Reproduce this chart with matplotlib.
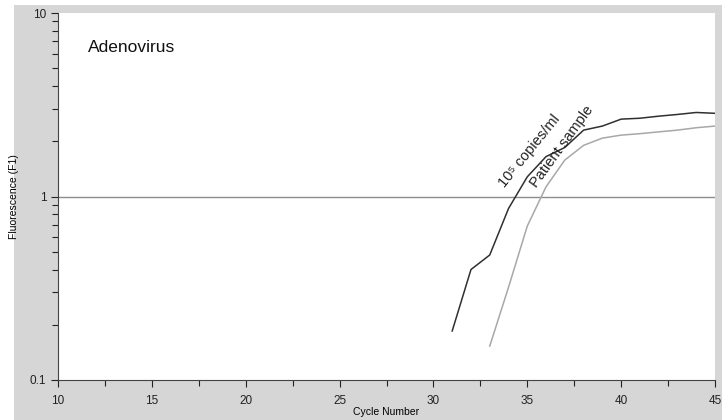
import matplotlib
matplotlib.use("Agg")
import matplotlib.pyplot as plt
from matplotlib.patches import Rectangle
from matplotlib.ticker import FixedLocator, NullFormatter, LogLocator

plt.rcParams['font.family'] = ['Liberation Sans', 'DejaVu Sans']

# Curvas de amplificacion (lectura aproximada de la figura)
ciclos_std = [31, 32, 33, 34, 35, 36, 37, 38, 39, 40, 41, 42, 43, 44, 45]
fluo_std = [0.185, 0.40, 0.48, 0.86, 1.28, 1.65, 1.85, 2.3, 2.42, 2.64, 2.67, 2.74, 2.8, 2.87, 2.84]
ciclos_pac = [33, 34, 35, 36, 37, 38, 39, 40, 41, 42, 43, 44, 45]
fluo_pac = [0.153, 0.32, 0.69, 1.13, 1.58, 1.9, 2.08, 2.16, 2.2, 2.25, 2.3, 2.37, 2.42]
umbral = 1.0

fig = plt.figure(figsize=(7.22, 4.2), dpi=100)
fig.patch.set_facecolor('white')
fig.patches.append(Rectangle((14/722, 0), 1, (420-5)/420, transform=fig.transFigure,
                             facecolor='#d6d6d6', edgecolor='none', zorder=-10))

ax = fig.add_axes([58/722, 40/420, (715-58)/722, (380-13)/420])
ax.set_facecolor('white')

ax.axhline(umbral, color='#8c8c8c', lw=1.0)
ax.plot(ciclos_std, fluo_std, color='#303030', lw=1.1)
ax.plot(ciclos_pac, fluo_pac, color='#a8a8a8', lw=1.1)

ax.set_yscale('log')
ax.set_xlim(10, 45)
ax.set_ylim(0.1, 10)
ax.xaxis.set_major_locator(FixedLocator([10, 15, 20, 25, 30, 35, 40, 45]))
ax.xaxis.set_minor_locator(FixedLocator([12.5, 17.5, 22.5, 27.5, 32.5, 37.5, 42.5]))
ax.yaxis.set_major_locator(FixedLocator([0.1, 1, 10]))
ax.yaxis.set_minor_locator(LogLocator(base=10, subs=range(2, 10)))
ax.yaxis.set_minor_formatter(NullFormatter())
ax.set_yticklabels(['0.1', '1', '10'])
ax.tick_params(axis='both', which='major', length=5, width=0.8, labelsize=8.5, colors='#222222')
ax.tick_params(axis='both', which='minor', length=4, width=0.8, colors='#222222')
ax.tick_params(axis='x', pad=6)

for s in ['top', 'right']:
    ax.spines[s].set_visible(False)
ax.spines['left'].set_color('#444444')
ax.spines['bottom'].set_color('#444444')

ax.set_xlabel('Cycle Number', fontsize=7.5, labelpad=0,
              family=['Liberation Sans Narrow', 'Liberation Sans', 'DejaVu Sans'])
ax.set_ylabel('Fluorescence (F1)', fontsize=7.5, labelpad=8,
              family=['Liberation Sans Narrow', 'Liberation Sans', 'DejaVu Sans'])

ax.text(11.6, 6.5, 'Adenovirus', fontsize=12.5, va='center', ha='left', color='#111111')
ax.text(33.8, 1.11, '10\u2075 copies/ml', fontsize=10.5, rotation=51,
        rotation_mode='anchor', ha='left', va='baseline', color='#222222')
ax.text(35.5, 1.11, 'Patient sample', fontsize=10.5, rotation=54,
        rotation_mode='anchor', ha='left', va='baseline', color='#222222')

fig.savefig('out.png', dpi=100, facecolor=fig.get_facecolor())
